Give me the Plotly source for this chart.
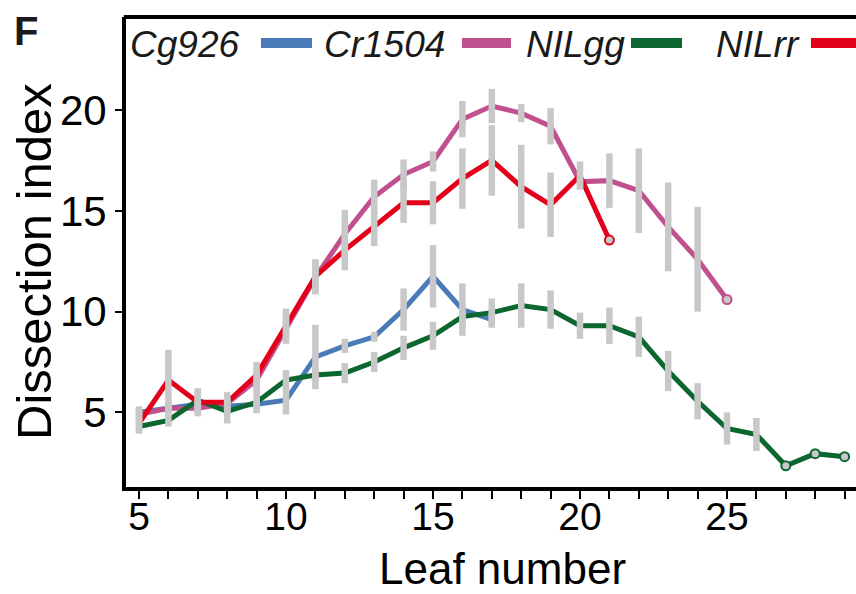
import plotly.graph_objects as go

# ---- data ----
x_cg926 = list(range(5, 18))
y_cg926 = [5.0, 5.2, 5.4, 5.3, 5.4, 5.6, 7.75, 8.3, 8.75, 10.1, 11.75, 10.1, 9.6]
e_cg926 = [0.3, 0.25, 0.3, 0.3, 0.3, 0.7, 1.6, 0.35, 0.25, 1.05, 1.55, 1.3, 0.4]

x_cr1504 = list(range(5, 26))
y_cr1504 = [4.9, 5.2, 5.2, 5.45, 6.6, 9.2, 11.7, 13.85, 15.7, 16.8, 17.45, 19.55,
            20.2, 19.85, 19.2, 16.45, 16.5, 16.0, 14.2, 12.6, 10.6]
e_cr1504 = [0.3, 0.3, 0.4, 0.3, 0.6, 0.8, 0.85, 1.2, 0.85, 0.75, 0.5, 0.9,
            0.85, 0.45, 0.9, 0.3, 1.35, 2.1, 2.2, 2.6, 0.2]

x_nilgg = list(range(5, 30))
y_nilgg = [4.3, 4.6, 5.6, 5.05, 5.5, 6.6, 6.85, 6.95, 7.5, 8.2, 8.8, 9.75, 9.95,
           10.3, 10.1, 9.3, 9.3, 8.75, 7.05, 5.55, 4.2, 3.9, 2.35, 2.95, 2.8]
e_nilgg = [0.35, 0.3, 0.6, 0.6, 0.55, 0.5, 0.3, 0.5, 0.5, 0.6, 0.7, 0.6, 0.7,
           1.1, 0.95, 0.65, 0.9, 1.0, 1.0, 0.9, 0.8, 0.82, 0, 0, 0]

x_nilrr = list(range(5, 22))
y_nilrr = [4.45, 6.6, 5.5, 5.5, 6.85, 9.35, 11.75, 13.05, 14.2, 15.4, 15.4, 16.6,
           17.5, 16.2, 15.3, 16.75, 13.55]
e_nilrr = [0.5, 1.5, 0.6, 0.5, 0.65, 0.8, 0.85, 1.0, 0.95, 1.0, 1.07, 1.5,
           1.75, 2.08, 1.6, 0.7, 0]

series_names = ["Cg926", "Cr1504", "NILgg", "NILrr"]
colors = ["#4a7bb7", "#c0508e", "#0b6630", "#e3001b"]

x_ticks = list(range(5, 30))
x_ticklabels = [str(v) if v % 5 == 0 else "" for v in x_ticks]
y_ticks = [5, 10, 15, 20]
x_title = "Leaf number"
y_title = "Dissection index"

series = [
    (x_cg926, y_cg926, e_cg926),
    (x_cr1504, y_cr1504, e_cr1504),
    (x_nilgg, y_nilgg, e_nilgg),
    (x_nilrr, y_nilrr, e_nilrr),
]

GRAY = "#c8c8c8"
FONT = "Liberation Sans, Arial, sans-serif"

fig = go.Figure()

# lines
for (xs, ys, es), name, col in zip(series, series_names, colors):
    fig.add_trace(go.Scatter(
        x=xs, y=ys, mode="lines", name=name,
        line=dict(color=col, width=5),
        showlegend=False, cliponaxis=False,
    ))

# gray error bars on top
for (xs, ys, es), name in zip(series, series_names):
    fig.add_trace(go.Scatter(
        x=xs, y=ys, mode="markers", name=name + " SE",
        marker=dict(size=1, opacity=0),
        error_y=dict(type="data", array=es, visible=True, color=GRAY,
                     thickness=6.5, width=0),
        showlegend=False, hoverinfo="skip",
    ))

# markers for points with no / tiny error bars
for (xs, ys, es), name, col in zip(series, series_names, colors):
    mx = [xv for xv, e in zip(xs, es) if e <= 0.2]
    my = [yv for yv, e in zip(ys, es) if e <= 0.2]
    fig.add_trace(go.Scatter(
        x=mx, y=my, mode="markers",
        marker=dict(size=9, color=GRAY, line=dict(color=col, width=2)),
        showlegend=False, cliponaxis=False, hoverinfo="skip",
    ))

# plot area geometry (pixels)
L, R, T, B = 126, 856, 17, 487
W, H = R - L, B - T
def px(xp):
    return (xp - L) / W
def py(yp):
    return (B - yp) / H

# manual legend: label then key
legend_text_left = [128, 322, 524, 714]
legend_key = [(261, 312), (462, 511), (631, 682), (811, 880)]
annotations = []
shapes = []
for name, col, tl, (k0, k1) in zip(series_names, colors, legend_text_left, legend_key):
    annotations.append(dict(
        x=px(tl), y=py(45), xref="paper", yref="paper", text="<i>%s</i>" % name,
        showarrow=False, xanchor="left", yanchor="middle",
        font=dict(family=FONT, size=37, color="#1a1a1a"),
    ))
    shapes.append(dict(
        type="line", xref="paper", yref="paper",
        x0=px(k0), x1=px(k1), y0=py(43), y1=py(43),
        line=dict(color=col, width=10),
    ))

# panel letter
annotations.append(dict(
    x=px(26), y=py(31), xref="paper", yref="paper", text="<b>F</b>",
    showarrow=False, xanchor="center", yanchor="middle",
    font=dict(family=FONT, size=40, color="#1a1a1a"),
))

# axis titles
annotations.append(dict(
    x=px(502), y=py(568), xref="paper", yref="paper", text=x_title,
    showarrow=False, xanchor="center", yanchor="middle",
    font=dict(family=FONT, size=44, color="black"),
))
annotations.append(dict(
    x=px(34), y=py(262), xref="paper", yref="paper", text=y_title,
    showarrow=False, xanchor="center", yanchor="middle", textangle=-90,
    font=dict(family=FONT, size=49, color="black"),
))

# top border
shapes.append(dict(
    type="line", xref="paper", yref="paper", x0=-0.003, x1=1.0, y0=1.0, y1=1.0,
    line=dict(color="black", width=4),
))

fig.update_layout(
    width=856, height=594,
    margin=dict(l=L, r=0, t=T, b=594 - B),
    paper_bgcolor="white", plot_bgcolor="white",
    font=dict(family=FONT, color="black"),
    annotations=annotations, shapes=shapes,
    showlegend=False,
)

fig.update_xaxes(
    range=[5 - (139 - L) / 29.4, 5 + (R - 139) / 29.4],
    tickmode="array", tickvals=x_ticks, ticktext=x_ticklabels,
    ticks="outside", ticklen=8, tickwidth=2, tickcolor="black",
    ticklabelstandoff=-16,
    showline=True, linewidth=4, linecolor="black",
    showgrid=False, zeroline=False,
    tickfont=dict(size=39, family=FONT, color="black"),
)
fig.update_yaxes(
    range=[(513.1 - B) / 20.15, (513.1 - T) / 20.15],
    tickmode="array", tickvals=y_ticks,
    ticks="outside", ticklen=7, tickwidth=2, tickcolor="black",
    showline=True, linewidth=4, linecolor="black",
    showgrid=False, zeroline=False,
    tickfont=dict(size=42, family=FONT, color="black"),
)

fig.write_html("out.html")
